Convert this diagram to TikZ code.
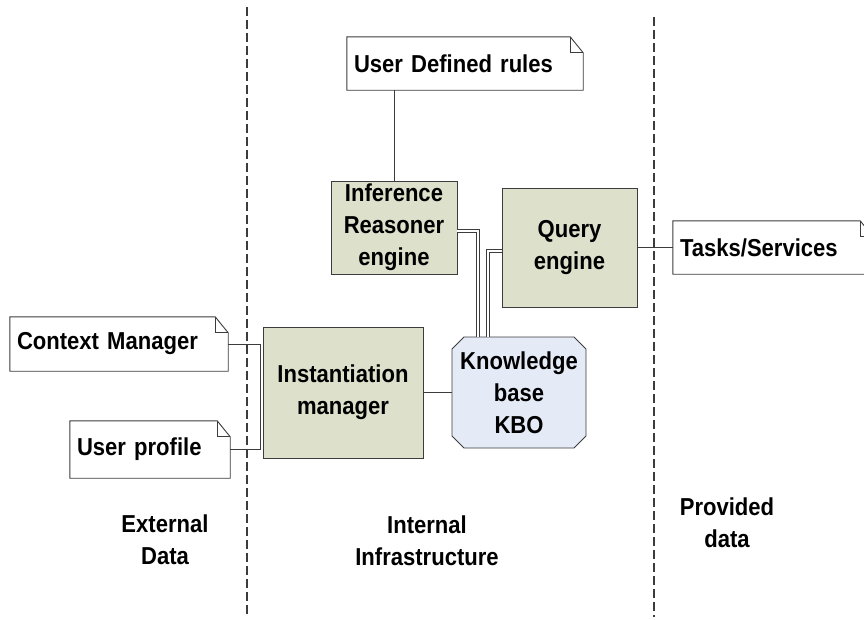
\documentclass[tikz,border=0pt]{standalone}
\usepackage{fontspec}
\setmainfont[FakeStretch=0.9, WordSpace=0.75]{Liberation Sans}
\usetikzlibrary{shapes.misc}

\definecolor{boxgreen}{RGB}{221,224,203}
\definecolor{kbblue}{RGB}{228,235,247}
\definecolor{edge}{RGB}{60,60,60}

% Note with a folded top-right corner
\newcommand{\dogear}[1]{%
  \draw[edge, line width=0.9pt, line join=miter]
    (#1.south west) -- (#1.north west) -- ([xshift=-13pt]#1.north east)
    -- ([yshift=-16pt]#1.north east) -- (#1.south east) -- cycle;
  \draw[edge, line width=0.9pt]
    ([xshift=-13pt]#1.north east) |- ([yshift=-16pt]#1.north east);
}

\begin{document}
\begin{tikzpicture}[x=1pt, y=-1pt,
  lbl/.style={font=\fontsize{24.5}{32}\selectfont\bfseries, align=center},
  notebox/.style={lbl, align=left, fill=white, inner xsep=7pt, inner ysep=0pt, anchor=center},
  procbox/.style={lbl, draw=edge, line width=0.9pt, fill=boxgreen, inner sep=0pt},
  kbbox/.style={lbl, chamfered rectangle, chamfered rectangle xsep=6pt,
    chamfered rectangle ysep=6pt, draw=edge, line width=0.9pt, fill=kbblue, inner sep=0pt},
  link/.style={draw=edge, line width=0.9pt},
  dbl/.style={draw=edge, line width=0.8pt, double=white, double distance=2.6pt},
  divider/.style={draw=edge, line width=1.2pt, dash pattern=on 9pt off 4pt}]

\useasboundingbox (0,0) rectangle (864,619);
\clip (0,0) rectangle (864,619);

% Zone dividers
\coordinate (la) at (247,7);
\coordinate (lb) at (247,617);
\coordinate (ra) at (654,17);
\coordinate (rb) at (654,617);
\draw[divider] (la) -- (lb);
\draw[divider] (ra) -- (rb);

% Notes
\node[notebox, text width=222pt, minimum height=53pt] (udr) at (465,63.5) {User Defined rules};
\node[notebox, text width=204pt, minimum height=54pt] (ctx) at (119,344) {Context Manager};
\node[notebox, text width=146pt, minimum height=57pt] (usr) at (150,449.5) {User profile};
\node[notebox, text width=186pt, minimum height=53pt] (tsk) at (773,247.5) {Tasks/Services};
\dogear{udr}
\dogear{ctx}
\dogear{usr}
\dogear{tsk}

% Processing blocks
\node[procbox, minimum width=126pt, minimum height=93pt] (inf) at (394,227.5) {Inference\\Reasoner\\engine};
\node[procbox, minimum width=135pt, minimum height=119pt] (qry) at (569.5,247.5) {Query\\engine};
\node[procbox, minimum width=160pt, minimum height=131pt] (inst) at (343,392.5) {Instantiation\\manager};
\node[kbbox, minimum width=134pt, minimum height=111pt] (kb) at (519,392.5) {Knowledge\\base\\KBO};

% Connectors
\draw[link] (inf.north) -- (inf.north |- udr.south);
\draw[link] (qry.east) -- (tsk.west);
\draw[link] (inst.east) -- (kb.west);
\draw[link] (ctx.east) -- ++(32,0) |- (usr.east);
\draw[dbl] ([yshift=-3.5pt]inf.east) -| ([xshift=-41pt]kb.north);
\draw[dbl] ([yshift=-3.5pt]qry.west) -| ([xshift=-31pt]kb.north);

% Zone captions
\node[lbl] (zext) at (165,540) {External\\Data};
\node[lbl] (zint) at (427,541) {Internal\\Infrastructure};
\node[lbl] (zpro) at (727,523) {Provided\\data};
\end{tikzpicture}
\end{document}
